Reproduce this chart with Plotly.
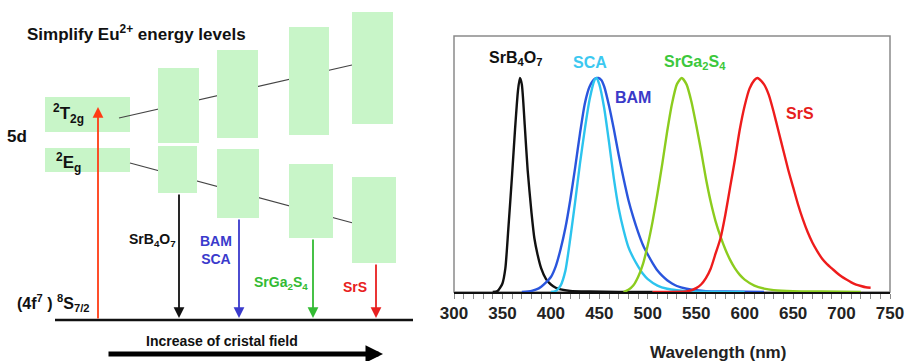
import plotly.graph_objects as go

# ---------------- emission spectra (normalised intensity) ----------------
wl_srb4o7 = [340, 345, 350, 353, 356, 360, 363, 366, 368, 370, 373, 376, 380, 383, 386,
             390, 395, 400, 405, 410, 420, 440, 470, 505]
it_srb4o7 = [0.0, 0.005, 0.04, 0.11, 0.29, 0.55, 0.76, 0.94, 1.0, 0.97, 0.78, 0.57, 0.37,
             0.25, 0.18, 0.11, 0.06, 0.035, 0.02, 0.012, 0.005, 0.002, 0.0, 0.0]

wl_sca = [400, 405, 410, 415, 420, 425, 430, 435, 440, 445, 447, 450, 455, 460, 465, 470,
          475, 480, 485, 490, 495, 500, 510, 520, 530, 540, 560, 600]
it_sca = [0.0, 0.005, 0.03, 0.10, 0.25, 0.42, 0.60, 0.76, 0.90, 0.99, 1.0, 0.97, 0.86, 0.70,
          0.53, 0.39, 0.29, 0.21, 0.16, 0.12, 0.085, 0.06, 0.03, 0.015, 0.008, 0.004, 0.001, 0.0]

wl_bam = [370, 380, 385, 390, 395, 400, 405, 410, 415, 420, 425, 430, 435, 440, 445, 449,
          452, 455, 460, 465, 470, 475, 480, 485, 490, 495, 500, 505, 510, 515, 520, 525,
          530, 540, 550, 560, 580, 620]
it_bam = [0.0, 0.005, 0.012, 0.025, 0.045, 0.07, 0.12, 0.20, 0.30, 0.43, 0.58, 0.74, 0.88,
          0.96, 0.995, 1.0, 0.99, 0.96, 0.87, 0.76, 0.64, 0.53, 0.43, 0.35, 0.28, 0.22, 0.175,
          0.135, 0.10, 0.075, 0.055, 0.04, 0.028, 0.015, 0.008, 0.004, 0.002, 0.0]

wl_srga2s4 = [475, 480, 485, 490, 495, 500, 505, 510, 515, 520, 525, 530, 535, 540, 545,
              550, 555, 560, 565, 570, 575, 580, 585, 590, 595, 600, 610, 620, 630, 650,
              680, 720]
it_srga2s4 = [0.0, 0.01, 0.03, 0.07, 0.13, 0.22, 0.33, 0.46, 0.60, 0.75, 0.88, 0.97, 1.0,
              0.97, 0.89, 0.78, 0.66, 0.53, 0.42, 0.33, 0.26, 0.20, 0.15, 0.11, 0.08, 0.058,
              0.03, 0.016, 0.009, 0.004, 0.002, 0.0]

wl_srs = [505, 540, 545, 550, 555, 560, 565, 570, 575, 580, 585, 590, 595, 600, 605, 610,
          613, 615, 620, 625, 630, 635, 640, 645, 650, 655, 660, 665, 670, 675, 680, 685,
          690, 695, 700, 705, 710, 715, 720, 725, 730]
it_srs = [0.0, 0.003, 0.008, 0.018, 0.035, 0.065, 0.11, 0.18, 0.25, 0.36, 0.49, 0.62, 0.76,
          0.87, 0.95, 0.99, 1.0, 0.995, 0.97, 0.92, 0.84, 0.75, 0.66, 0.57, 0.49, 0.41, 0.34,
          0.28, 0.23, 0.19, 0.155, 0.13, 0.11, 0.09, 0.072, 0.058, 0.045, 0.035, 0.028,
          0.022, 0.02]

x_ticks = [300, 350, 400, 450, 500, 550, 600, 650, 700, 750]

# ---------------- Eu2+ level scheme (diagram units, ground state = 0) ----------------
hosts = ["SrB<sub>4</sub>O<sub>7</sub>", "BAM<br>SCA", "SrGa<sub>2</sub>S<sub>4</sub>", "SrS"]
host_colors = ["#111111", "#3a3acc", "#33bb33", "#e82020"]
host_x0 = [158, 217, 289, 352]          # left edge of each host column
t2g_x1 = [199, 258, 329, 393]
eg_x1 = [197, 259, 333, 396]
t2g_low = [177, 182, 185, 196]
t2g_high = [252, 270, 293, 308]
eg_low = [127, 102, 82, 57]
eg_high = [174, 171, 156, 143]
emit_x = [179, 239, 313, 376]
label_x = [152, 216, 281, 355]
label_y = [80, 70, 37, 33]

free_x = [45, 130]
free_t2g = [188, 223]
free_eg = [148, 172]
excite_x = 98
ground_x = [55, 413]

BOX = "#c8f5c8"
FONT = "Arial, Liberation Sans, sans-serif"
W, H = 906, 361

fig = go.Figure()

spectra = [
    (wl_srb4o7, it_srb4o7, "#111111", "SrB4O7"),
    (wl_bam, it_bam, "#2a55dd", "BAM"),
    (wl_sca, it_sca, "#2cc4ee", "SCA"),
    (wl_srga2s4, it_srga2s4, "#8ccc1e", "SrGa2S4"),
    (wl_srs, it_srs, "#ee1c1c", "SrS"),
]
for wl, it, col, name in spectra:
    fig.add_trace(go.Scatter(x=wl, y=it, mode="lines", name=name,
                             line=dict(color=col, width=2.4, shape="spline", smoothing=0.6),
                             xaxis="x", yaxis="y", hoverinfo="skip"))

# invisible trace to anchor the diagram axes
fig.add_trace(go.Scatter(x=[0], y=[0], mode="markers", marker=dict(opacity=0),
                         xaxis="x2", yaxis="y2", hoverinfo="skip"))

shapes = []
# free-ion 5d levels
shapes.append(dict(type="rect", xref="x2", yref="y2", x0=free_x[0], x1=free_x[1],
                   y0=free_t2g[0], y1=free_t2g[1], fillcolor=BOX, line_width=0))
shapes.append(dict(type="rect", xref="x2", yref="y2", x0=free_x[0], x1=free_x[1],
                   y0=free_eg[0], y1=free_eg[1], fillcolor=BOX, line_width=0))
# centroid guide lines
shapes.append(dict(type="line", xref="x2", yref="y2", x0=119, y0=202, x1=352, y1=255,
                   line=dict(color="#444444", width=1.2)))
shapes.append(dict(type="line", xref="x2", yref="y2", x0=130, y0=157, x1=353, y1=97,
                   line=dict(color="#444444", width=1.2)))
# split levels in each host
for i in range(len(hosts)):
    shapes.append(dict(type="rect", xref="x2", yref="y2", x0=host_x0[i], x1=t2g_x1[i],
                       y0=t2g_low[i], y1=t2g_high[i], fillcolor=BOX, line_width=0))
    shapes.append(dict(type="rect", xref="x2", yref="y2", x0=host_x0[i], x1=eg_x1[i],
                       y0=eg_low[i], y1=eg_high[i], fillcolor=BOX, line_width=0))
# ground state
shapes.append(dict(type="line", xref="x2", yref="y2", x0=ground_x[0], y0=0, x1=ground_x[1], y1=0,
                   line=dict(color="#111111", width=2.5)))
# frame of the spectra panel
shapes.append(dict(type="rect", xref="x domain", yref="y domain", x0=0, x1=1, y0=0, y1=1,
                   line=dict(color="#8a8a8a", width=1.5), layer="below"))

ann = []
# excitation arrow
ann.append(dict(x=excite_x, y=free_t2g[1] - 10, ax=excite_x, ay=0, xref="x2", yref="y2",
                axref="x2", ayref="y2", text="", showarrow=True, arrowhead=2, arrowsize=1.2,
                arrowwidth=1.8, arrowcolor="#ff3c14"))
# emission arrows and host labels
for i in range(len(hosts)):
    ann.append(dict(x=emit_x[i], y=2, ax=emit_x[i], ay=eg_low[i], xref="x2", yref="y2",
                    axref="x2", ayref="y2", text="", showarrow=True, arrowhead=2,
                    arrowsize=1.2, arrowwidth=1.8, arrowcolor=host_colors[i]))
    ann.append(dict(x=label_x[i], y=label_y[i], xref="x2", yref="y2", text="<b>%s</b>" % hosts[i],
                    showarrow=False, font=dict(family=FONT, size=14, color=host_colors[i]),
                    align="center", xanchor="center"))

diagram_text = [
    (136, 287, "<b>Simplify Eu<sup>2+</sup> energy levels</b>", 17),
    (17, 184, "<b>5d</b>", 17),
    (68, 207, "<b><sup>2</sup>T<sub>2g</sub></b>", 17),
    (68, 158, "<b><sup>2</sup>E<sub>g</sub></b>", 17),
    (53, 17, "<b>(4f<sup>7</sup> ) <sup>8</sup>S<sub>7/2</sub></b>", 16),
    (222, -21, "<b>Increase of cristal field</b>", 14),
]
for x, y, t, s in diagram_text:
    ann.append(dict(x=x, y=y, xref="x2", yref="y2", text=t, showarrow=False, xanchor="center",
                    font=dict(family=FONT, size=s, color="#111111")))

# crystal-field arrow
ann.append(dict(x=383, y=-34, ax=107, ay=-34, xref="x2", yref="y2", axref="x2", ayref="y2",
                text="", showarrow=True, arrowhead=2, arrowsize=0.7, arrowwidth=5,
                arrowcolor="#000000"))

# spectrum labels
spec_labels = [
    (363, 1.089, "SrB<sub>4</sub>O<sub>7</sub>", "#111111"),
    (440, 1.07, "SCA", "#3cc8f0"),
    (549, 1.07, "SrGa<sub>2</sub>S<sub>4</sub>", "#3cc83c"),
    (485, 0.907, "BAM", "#3a3ac8"),
    (657, 0.836, "SrS", "#e61e1e"),
]
for x, y, t, c in spec_labels:
    ann.append(dict(x=x, y=y, xref="x", yref="y", text="<b>%s</b>" % t, showarrow=False,
                    xanchor="center", font=dict(family=FONT, size=16, color=c)))

ann.append(dict(x=718 / W, y=(H - 352) / H, xref="paper", yref="paper",
                xanchor="center", yanchor="middle",
                text="<b>Wavelength (nm)</b>", showarrow=False,
                font=dict(family=FONT, size=17, color="#222222")))

fig.update_layout(
    width=W, height=H,
    margin=dict(l=0, r=0, t=0, b=0, autoexpand=False),
    paper_bgcolor="white", plot_bgcolor="rgba(0,0,0,0)",
    showlegend=False,
    shapes=shapes, annotations=ann,
    xaxis=dict(domain=[454 / W, 890 / W], range=[300, 750], tickvals=x_ticks,
               ticks="outside", ticklen=5, tickcolor="#8a8a8a", tickwidth=1,
               minor=dict(dtick=10, ticks="outside", ticklen=5, tickcolor="#8a8a8a"),
               showline=True, linecolor="#111111", linewidth=2, showgrid=False,
               zeroline=False, automargin=False,
               tickfont=dict(family=FONT, size=17, color="#222222", weight="bold"),
               anchor="y"),
    yaxis=dict(domain=[(H - 292) / H, (H - 36) / H], range=[0, 1.196],
               showticklabels=False, showgrid=False, zeroline=False, showline=False,
               ticks="", anchor="x", automargin=False),
    xaxis2=dict(domain=[0, 450 / W], range=[0, 450], visible=False, anchor="y2",
                automargin=False),
    yaxis2=dict(domain=[0, 1], range=[-41, 320], visible=False, anchor="x2",
                automargin=False),
)

fig.write_html("out.html", config={"displayModeBar": False})
